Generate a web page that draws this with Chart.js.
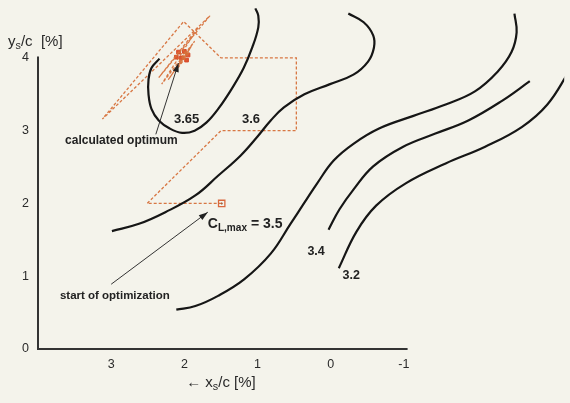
<!DOCTYPE html>
<html>
<head>
<meta charset="utf-8">
<script src="https://cdn.jsdelivr.net/npm/chart.js@4.4.1/dist/chart.umd.min.js"></script>
<style>
  html, body { margin: 0; padding: 0; background: #f4f3eb; }
  canvas { display: block; }
</style>
</head>
<body>
<canvas id="chart" width="570" height="403"></canvas>
<script>
// axis ticks
const xTicks = [3, 2, 1, 0, -1];
const yTicks = [0, 1, 2, 3, 4];

// C_L,max contour lines, [x_s/c, y_s/c] in %
const contour365 = [[2.34,3.99],[2.45,3.86],[2.49,3.70],[2.49,3.50],[2.45,3.30],[2.35,3.14],[2.20,3.03],[2.03,2.97],
  [1.86,3.00],[1.70,3.11],[1.53,3.31],[1.35,3.58],[1.19,3.86],[1.07,4.15],[0.99,4.42],[0.99,4.58],[1.03,4.68]];
const contour36 = [[2.99,1.62],[2.62,1.72],[2.26,1.88],[1.85,2.11],[1.54,2.38],[1.23,2.66],[1.00,2.92],[0.82,3.14],
  [0.64,3.32],[0.36,3.50],[0.01,3.64],[-0.31,3.77],[-0.51,3.95],[-0.59,4.14],[-0.58,4.31],[-0.45,4.49],[-0.24,4.61]];
const contour35 = [[2.11,0.54],[1.85,0.59],[1.54,0.73],[1.18,0.96],[0.82,1.31],[0.55,1.72],[0.36,2.01],[0.19,2.27],
  [-0.04,2.59],[-0.31,2.82],[-0.66,3.03],[-1.12,3.20],[-1.57,3.36],[-1.97,3.54],[-2.28,3.81],[-2.47,4.08],[-2.54,4.35],[-2.51,4.61]];
const contour34 = [[0.03,1.64],[-0.12,1.92],[-0.31,2.19],[-0.58,2.51],[-0.99,2.78],[-1.43,2.96],[-1.88,3.14],[-2.34,3.41],[-2.72,3.68]];
const contour32 = [[-0.11,1.11],[-0.35,1.61],[-0.62,1.97],[-1.03,2.28],[-1.57,2.55],[-2.11,2.78],[-2.61,3.05],[-2.96,3.36],[-3.26,3.82]];

// optimization path
const pathPoints = [[1.49,2.00],[2.51,2.00],[1.50,3.00],[0.47,3.00],[0.47,4.00],[1.50,4.00],[2.01,4.50],[3.12,3.16],
  [1.65,4.58],[2.35,3.73],[1.81,4.42],[2.31,3.64],[1.86,4.23],[2.22,3.70],[1.91,4.15],[2.12,3.82],[1.93,4.08],
  [2.07,3.93],[2.00,4.07],[2.03,4.04]];
const startPoint = [[1.49,2.00]];
const optimumPoints = [[2.08,4.08],[2.00,4.09],[1.95,4.04],[2.04,4.00],[2.11,4.01],[1.97,3.97]];

// annotation arrows [from, to]
const arrowOptimum = [[2.39,2.95],[2.08,3.93]];
const arrowStart = [[3.00,0.89],[1.68,1.88]];

const FONT = '"Liberation Sans", Arial, sans-serif';
const INK = '#222';

const toXY = arr => arr.map(p => ({ x: p[0], y: p[1] }));

function contourSet(pts) {
  return {
    data: toXY(pts), showLine: true, borderColor: '#161616', borderWidth: 2.2,
    tension: 0.4, pointRadius: 0, fill: false
  };
}
function arrowSet(pts) {
  return {
    data: toXY(pts), showLine: true, borderColor: '#333', borderWidth: 1,
    pointRadius: 0, arrow: true
  };
}

// draws text with subscript parts
function richText(ctx, parts, x, y, size, weight, align) {
  const w = parts.map(p => {
    ctx.font = weight + ' ' + (p.sub ? size * 0.72 : size) + 'px ' + FONT;
    return ctx.measureText(p.t).width;
  });
  const total = w.reduce((a, b) => a + b, 0);
  let cx = align === 'center' ? x - total / 2 : x;
  parts.forEach((p, i) => {
    ctx.font = weight + ' ' + (p.sub ? size * 0.72 : size) + 'px ' + FONT;
    ctx.fillText(p.t, cx, p.sub ? y + size * 0.3 : y);
    cx += w[i];
  });
}

// keep chart area fixed: no extra room for edge labels
function noPad(s) {
  s.paddingTop = 0; s.paddingBottom = 0; s.paddingLeft = 0; s.paddingRight = 0;
}

const decor = {
  id: 'decor',
  beforeDatasetsDraw(chart) {
    const { ctx, scales: { x, y } } = chart;
    ctx.save();
    ctx.strokeStyle = '#333';
    ctx.lineWidth = 2;
    ctx.beginPath();
    ctx.moveTo(x.getPixelForValue(4), y.getPixelForValue(4.02));
    ctx.lineTo(x.getPixelForValue(4), y.getPixelForValue(0));
    ctx.lineTo(x.getPixelForValue(-1.05), y.getPixelForValue(0));
    ctx.stroke();
    ctx.restore();
  },
  afterDatasetsDraw(chart) {
    const { ctx, scales: { x, y } } = chart;
    ctx.save();
    // arrow heads
    chart.data.datasets.forEach(ds => {
      if (!ds.arrow) return;
      const a = ds.data[0], b = ds.data[1];
      const x0 = x.getPixelForValue(a.x), y0 = y.getPixelForValue(a.y);
      const x1 = x.getPixelForValue(b.x), y1 = y.getPixelForValue(b.y);
      const ang = Math.atan2(y1 - y0, x1 - x0);
      ctx.fillStyle = '#222';
      ctx.beginPath();
      ctx.moveTo(x1, y1);
      ctx.lineTo(x1 - 9 * Math.cos(ang) + 3 * Math.sin(ang), y1 - 9 * Math.sin(ang) - 3 * Math.cos(ang));
      ctx.lineTo(x1 - 9 * Math.cos(ang) - 3 * Math.sin(ang), y1 - 9 * Math.sin(ang) + 3 * Math.cos(ang));
      ctx.closePath();
      ctx.fill();
    });

    ctx.fillStyle = INK;
    ctx.textBaseline = 'middle';
    ctx.textAlign = 'left';
    const px = v => x.getPixelForValue(v), py = v => y.getPixelForValue(v);

    richText(ctx, [{ t: '3.65' }], px(1.97), py(3.15), 13, 'bold', 'center');
    richText(ctx, [{ t: '3.6' }], px(1.09), py(3.16), 13, 'bold', 'center');
    richText(ctx, [{ t: '3.4' }], px(0.20), py(1.34), 12.5, 'bold', 'center');
    richText(ctx, [{ t: '3.2' }], px(-0.28), py(1.01), 12.5, 'bold', 'center');
    richText(ctx, [{ t: 'C' }, { t: 'L,max', sub: true }, { t: ' = 3.5' }], px(1.68), py(1.72), 14, 'bold', 'left');
    richText(ctx, [{ t: 'calculated optimum' }], px(2.86), py(2.86), 12, 'bold', 'center');
    richText(ctx, [{ t: 'start of optimization' }], px(2.95), py(0.73), 11.5, 'bold', 'center');

    // axis titles
    ctx.fillStyle = '#2a2a2a';
    richText(ctx, [{ t: 'y' }, { t: 's', sub: true }, { t: '/c  [%]' }], 8, py(4) - 16, 15, 'normal', 'left');
    richText(ctx, [{ t: '\u2190 x' }, { t: 's', sub: true }, { t: '/c [%]' }], px(1.5), y.bottom + 34, 15, 'normal', 'center');
    ctx.restore();
  }
};

new Chart(document.getElementById('chart'), {
  type: 'scatter',
  data: {
    datasets: [
      contourSet(contour365), contourSet(contour36), contourSet(contour35),
      contourSet(contour34), contourSet(contour32),
      {
        data: toXY(pathPoints), showLine: true, borderColor: 'rgba(214,112,58,0.95)',
        borderWidth: 1.3, borderDash: [3, 2], pointRadius: 0, tension: 0
      },
      {
        data: toXY(startPoint), pointStyle: 'rect', pointRadius: 4.5,
        borderColor: '#d9683e', borderWidth: 1.3, backgroundColor: 'rgba(0,0,0,0)'
      },
      {
        data: toXY(startPoint), pointStyle: 'circle', pointRadius: 1, borderWidth: 0,
        backgroundColor: '#7a3a20'
      },
      {
        data: toXY(optimumPoints), pointStyle: 'rect', pointRadius: 2.6,
        borderColor: '#d5492a', borderWidth: 1, backgroundColor: '#e0552f'
      },
      arrowSet(arrowOptimum), arrowSet(arrowStart)
    ]
  },
  options: {
    responsive: false,
    animation: false,
    layout: { padding: 0 },
    plugins: { legend: { display: false }, tooltip: { enabled: false } },
    scales: {
      x: {
        type: 'linear', reverse: true, min: -3.19, max: 4,
        grid: { display: false, drawTicks: false }, border: { display: false },
        afterBuildTicks: s => { s.ticks = xTicks.map(v => ({ value: v })); },
        afterFit: s => { s.height = 54; noPad(s); },
        ticks: { padding: 8, color: '#2a2a2a', font: { family: FONT, size: 12.5 }, maxRotation: 0 }
      },
      y: {
        type: 'linear', min: 0, max: 4.716,
        grid: { display: false, drawTicks: false }, border: { display: false },
        afterBuildTicks: s => { s.ticks = yTicks.map(v => ({ value: v })); },
        afterFit: s => { s.width = 38; noPad(s); },
        ticks: { padding: 9, color: '#2a2a2a', font: { family: FONT, size: 12.5 } }
      }
    }
  },
  plugins: [decor]
});
</script>
</body>
</html>
